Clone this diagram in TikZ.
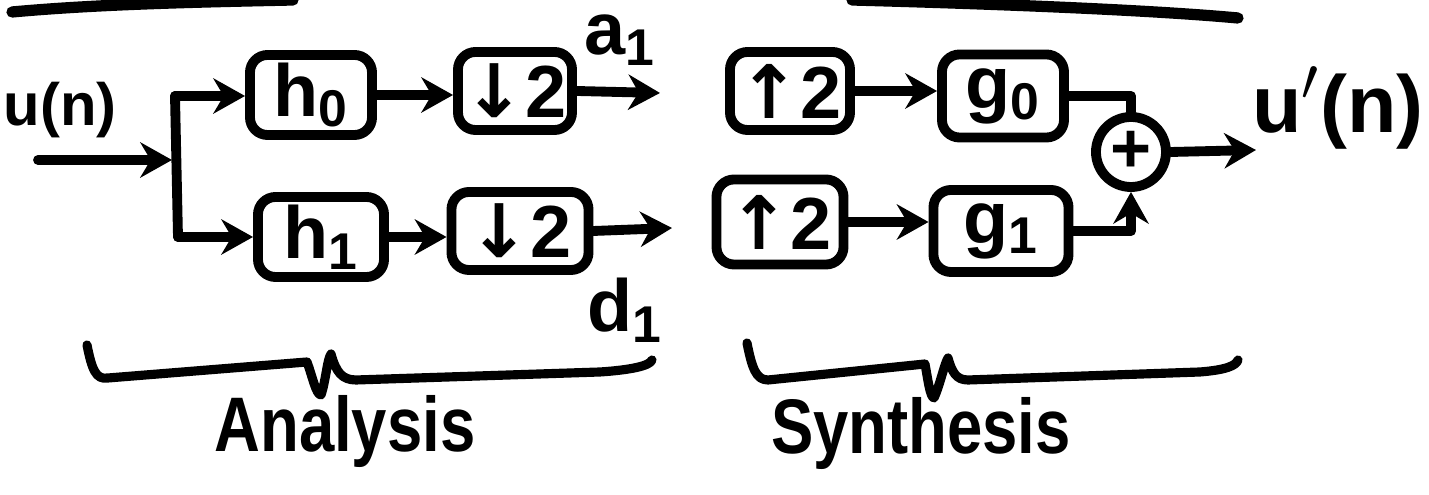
\documentclass[tikz,border=0pt]{standalone}
\usepackage{graphicx}
\usepackage{fontspec}
\setmainfont{Liberation Sans}
\newfontfamily\symfont{DejaVu Sans}
\usetikzlibrary{arrows.meta,calc}

\tikzset{
  stroke/.style={line width=2.8pt, line cap=round, line join=round},
  blk/.style={stroke, draw, rounded corners=5pt, inner sep=0pt,
              font=\fontsize{21}{24}\selectfont\bfseries},
  flow/.style={stroke, -{Stealth[length=9pt,width=10pt]}},
  lbl/.style={inner sep=0pt, font=\fontsize{21}{24}\selectfont\bfseries},
  brace/.style={line width=2.6pt, line cap=round, line join=round},
  caption/.style={inner sep=0pt, font=\fontsize{22}{26}\selectfont\bfseries},
}

\begin{document}
\begin{tikzpicture}[x=0.01cm, y=-0.01cm]
  \useasboundingbox (0,0) rectangle (1429,495);

  % strokes running off the top edge
  \draw[stroke, line width=3.2pt] (12,12) .. controls (100,4) and (200,2) .. (293,0);
  \draw[stroke, line width=3.2pt] (852,0) .. controls (1000,4) and (1150,10) .. (1238,18);

  % ---- analysis bank ----
  \node[lbl, font=\fontsize{17}{20}\selectfont\bfseries] (uin) at (60,110) {u(n)};
  \coordinate (in0) at (38,160);
  \coordinate (jn) at (172,160);
  \coordinate (jtop) at (175,96);
  \coordinate (jbot) at (178,237);

  \node[blk, minimum width=1.22cm, minimum height=0.80cm] (h0) at (311,95) {h\textsubscript{0}};
  \node[blk, minimum width=1.14cm, minimum height=0.78cm] (dn0) at (515,91) {{\symfont ↓}2};
  \node[blk, minimum width=1.26cm, minimum height=0.80cm] (h1) at (321,237) {h\textsubscript{1}};
  \node[blk, minimum width=1.37cm, minimum height=0.78cm] (dn1) at (520,231) {{\symfont ↓}2};

  \coordinate (aout) at (660,93);
  \coordinate (dout) at (672,228);
  \node[lbl] (a1) at (620,40) {a\textsubscript{1}};
  \node[lbl] (d1) at (625,310) {d\textsubscript{1}};

  \draw[flow] (in0) -- (jn);
  \draw[stroke] (jtop) -- (jbot);
  \draw[flow] (jtop) -- (h0.west |- jtop);
  \draw[flow] (jbot) -- (h1.west |- jbot);
  \draw[flow] (h0.east) -- (dn0.west |- h0.east);
  \draw[flow] (h1.east) -- (dn1.west |- h1.east);
  \draw[flow] (dn0.east) -- (aout);
  \draw[flow] (dn1.east) -- (dout);

  % ---- synthesis bank ----
  \node[blk, minimum width=1.20cm, minimum height=0.78cm] (up0) at (790,91) {{\symfont ↑}2};
  \node[blk, minimum width=1.27cm, minimum height=0.85cm] (up1) at (780,222) {{\symfont ↑}2};
  \node[blk, minimum width=1.22cm, minimum height=0.83cm] (g0) at (1003,96) {g\textsubscript{0}};
  \node[blk, minimum width=1.35cm, minimum height=0.82cm] (g1) at (1001,231) {g\textsubscript{1}};
  \node[stroke, draw, circle, minimum size=0.70cm, inner sep=0pt,
        font=\fontsize{20}{24}\selectfont\bfseries] (sum) at (1131,152) {+};

  \coordinate (yout) at (1256,150);
  \node[lbl, font=\fontsize{23}{26}\selectfont\bfseries] (uout) at (1338,108) {u$'$(n)};

  \draw[flow] (up0.east) -- (g0.west |- up0.east);
  \draw[flow] (up1.east) -- (g1.west |- up1.east);
  \draw[stroke] (g0.east) -| (sum.north);
  \draw[flow] (g1.east) -| (sum.south);
  \draw[flow] (sum.east) -- (yout);

  % ---- braces ----
  \draw[brace] (87,345) .. controls (92,370) and (96,380) .. (108,378)
               -- (307,362) .. controls (312,375) and (316,395) .. (321,395)
               .. controls (326,380) and (327,360) .. (331,354)
               .. controls (336,372) and (342,380) .. (356,380)
               -- (600,372) .. controls (630,370) and (650,366) .. (652,360);
  \draw[brace] (747,343) .. controls (752,368) and (756,380) .. (768,380)
               -- (925,364) .. controls (928,380) and (930,397) .. (934,398)
               .. controls (940,385) and (944,365) .. (948,358)
               .. controls (952,372) and (956,380) .. (968,380)
               -- (1200,372) .. controls (1225,370) and (1236,366) .. (1238,360);

  \node[caption] (ana) at (345,432) {\scalebox{0.82}[1]{Analysis}};
  \node[caption] (syn) at (921,434) {\scalebox{0.82}[1]{Synthesis}};
\end{tikzpicture}
\end{document}
